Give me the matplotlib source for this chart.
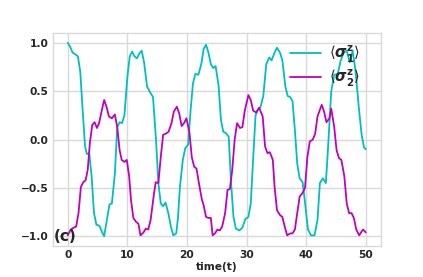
import numpy as np
import matplotlib
matplotlib.use("Agg")
import matplotlib.pyplot as plt

# <sigma_1^z>(t)
t1 = [0.0, 0.4, 0.8, 1.3, 1.7, 2.1, 2.5, 2.9, 3.2, 3.6, 4.0, 4.4, 4.8, 5.3, 5.7, 6.1, 6.5, 7.0, 7.4, 7.9,
      8.3, 8.7, 9.1, 9.5, 10.0, 10.4, 10.8, 11.2, 11.6, 12.0, 12.4, 12.8, 13.3, 13.8, 14.3, 14.8, 15.2, 15.6,
      16.0, 16.4, 16.9, 17.3, 17.7, 18.2, 18.5, 18.8, 19.3, 19.7, 20.2, 20.6, 21.0, 21.4, 21.9, 22.4, 22.8,
      23.2, 23.6, 24.0, 24.4, 24.8, 25.3, 25.7, 26.1, 26.5, 27.0, 27.4, 27.8, 28.2, 28.8, 29.3, 29.8, 30.3,
      30.7, 31.1, 31.5, 31.9, 32.3, 32.8, 33.3, 33.8, 34.2, 34.7, 35.1, 35.6, 36.0, 36.5, 36.9, 37.3, 37.7,
      38.1, 38.5, 38.9, 39.4, 39.8, 40.3, 40.8, 41.4, 41.9, 42.3, 42.8, 43.3, 43.7, 44.2, 44.7, 45.3, 45.8,
      46.3, 46.8, 47.3, 47.8, 48.3, 48.8, 49.3, 49.7, 50.0]
s1 = [1.00, 0.96, 0.90, 0.88, 0.86, 0.70, 0.30, -0.07, -0.15, -0.14, -0.38, -0.76, -0.88, -0.89, -0.95, -1.00,
      -0.85, -0.67, -0.66, -0.35, 0.13, 0.18, 0.17, 0.25, 0.65, 0.86, 0.91, 0.86, 0.84, 0.89, 0.92, 0.80,
      0.55, 0.49, 0.44, 0.00, -0.45, -0.66, -0.69, -0.65, -0.77, -0.90, -0.99, -0.97, -0.80, -0.50, -0.21,
      -0.09, -0.05, 0.30, 0.58, 0.68, 0.67, 0.78, 0.94, 0.98, 0.90, 0.78, 0.74, 0.76, 0.56, 0.20, 0.08,
      0.07, 0.03, -0.45, -0.80, -0.92, -0.94, -0.91, -0.82, -0.80, -0.66, -0.20, 0.25, 0.31, 0.33, 0.45,
      0.78, 0.85, 0.82, 0.90, 0.95, 0.90, 0.82, 0.55, 0.45, 0.44, 0.40, 0.10, -0.25, -0.40, -0.44, -0.65,
      -0.93, -0.99, -0.99, -0.83, -0.45, -0.40, -0.45, -0.05, 0.50, 0.67, 0.68, 0.82, 0.90, 0.92, 0.80,
      0.92, 0.70, 0.35, 0.05, -0.08, -0.10]

# <sigma_2^z>(t)
t2 = [0.0, 0.5, 1.0, 1.4, 1.8, 2.2, 2.6, 3.0, 3.35, 3.7, 4.1, 4.5, 4.9, 5.25, 5.7, 6.1, 6.5, 6.9, 7.4, 7.9,
      8.3, 8.7, 9.05, 9.5, 9.9, 10.3, 10.6, 11.0, 11.45, 11.85, 12.2, 12.7, 13.1, 13.5, 13.9, 14.4, 14.75,
      15.2, 15.6, 16.0, 16.4, 16.9, 17.4, 17.8, 18.3, 18.7, 19.1, 19.5, 19.9, 20.4, 20.8, 21.2, 21.6, 22.0,
      22.5, 22.8, 23.2, 23.6, 24.0, 24.3, 24.7, 25.1, 25.5, 25.9, 26.4, 26.8, 27.2, 27.6, 28.0, 28.4, 28.9,
      29.3, 29.7, 30.3, 30.7, 31.1, 31.6, 32.1, 32.7, 33.1, 33.5, 33.9, 34.4, 34.7, 35.1, 35.6, 36.0, 36.4,
      36.8, 37.3, 37.7, 38.1, 38.5, 38.9, 39.4, 39.8, 40.2, 40.6, 41.1, 41.5, 41.9, 42.6, 43.0, 43.4, 43.9,
      44.2, 44.7, 45.1, 45.5, 45.9, 46.4, 46.8, 47.2, 47.6, 48.0, 48.4, 48.9, 49.3, 49.55, 50.0]
s2 = [-0.99, -0.93, -0.91, -0.90, -0.76, -0.49, -0.44, -0.42, -0.31, -0.04, 0.15, 0.18, 0.12, 0.17, 0.30,
      0.41, 0.34, 0.24, 0.22, 0.26, 0.13, -0.11, -0.21, -0.23, -0.21, -0.38, -0.62, -0.81, -0.85, -0.87,
      -0.99, -0.96, -0.92, -0.93, -0.83, -0.59, -0.44, -0.45, -0.18, 0.05, 0.06, 0.08, 0.17, 0.29, 0.34,
      0.27, 0.14, 0.17, 0.22, 0.08, -0.18, -0.28, -0.30, -0.45, -0.62, -0.68, -0.80, -0.81, -0.81, -0.99,
      -0.97, -0.93, -0.94, -0.90, -0.76, -0.52, -0.51, -0.31, 0.00, 0.17, 0.12, 0.13, 0.30, 0.46, 0.41,
      0.30, 0.28, 0.33, 0.24, -0.07, -0.14, -0.13, -0.21, -0.49, -0.73, -0.78, -0.80, -0.90, -0.99, -0.97,
      -0.97, -0.93, -0.76, -0.59, -0.55, -0.50, -0.18, -0.02, 0.00, 0.06, 0.24, 0.36, 0.29, 0.18, 0.22,
      0.32, 0.13, -0.11, -0.19, -0.21, -0.38, -0.66, -0.76, -0.76, -0.81, -0.93, -0.99, -0.95, -0.93, -0.96]

plt.style.use("seaborn-v0_8-whitegrid")
plt.rcParams["font.family"] = "DejaVu Sans"
plt.rcParams["mathtext.fontset"] = "dejavusans"
plt.rcParams["grid.color"] = "#d9d9d9"
plt.rcParams["axes.edgecolor"] = "#d9d9d9"
plt.rcParams["grid.linewidth"] = 1.0

fig = plt.figure(figsize=(4.23, 2.77), dpi=100)
ax = fig.add_axes([0.125, 0.112, 0.775, 0.768])

ax.plot(t1, s1, color="c", lw=1.3, label=r"$\langle\boldsymbol{\sigma}^\mathbf{z}_\mathbf{1}\rangle$")
ax.plot(t2, s2, color="m", lw=1.3, label=r"$\langle\boldsymbol{\sigma}^\mathbf{z}_\mathbf{2}\rangle$")

ax.set_xticks([0, 10, 20, 30, 40, 50])
ax.set_yticks([-1.0, -0.5, 0.0, 0.5, 1.0])
for lab in ax.get_xticklabels() + ax.get_yticklabels():
    lab.set_fontweight("bold")
    lab.set_fontsize(7.7)
    lab.set_color("#262626")
ax.tick_params(pad=3)
ax.set_xlabel("time(t)", fontweight="bold", fontsize=7.7, color="#262626", labelpad=1)
ax.text(-2.4, -1.0, "(c)", fontsize=11, fontweight="bold", color="#262626", va="center", ha="left")

leg = ax.legend(loc="upper right", frameon=False, fontsize=10.5, handlelength=2.1,
                borderaxespad=0.3, labelspacing=0.2, handletextpad=0.6,
                bbox_to_anchor=(0.97, 1.0))

fig.savefig("out.png", dpi=100)
